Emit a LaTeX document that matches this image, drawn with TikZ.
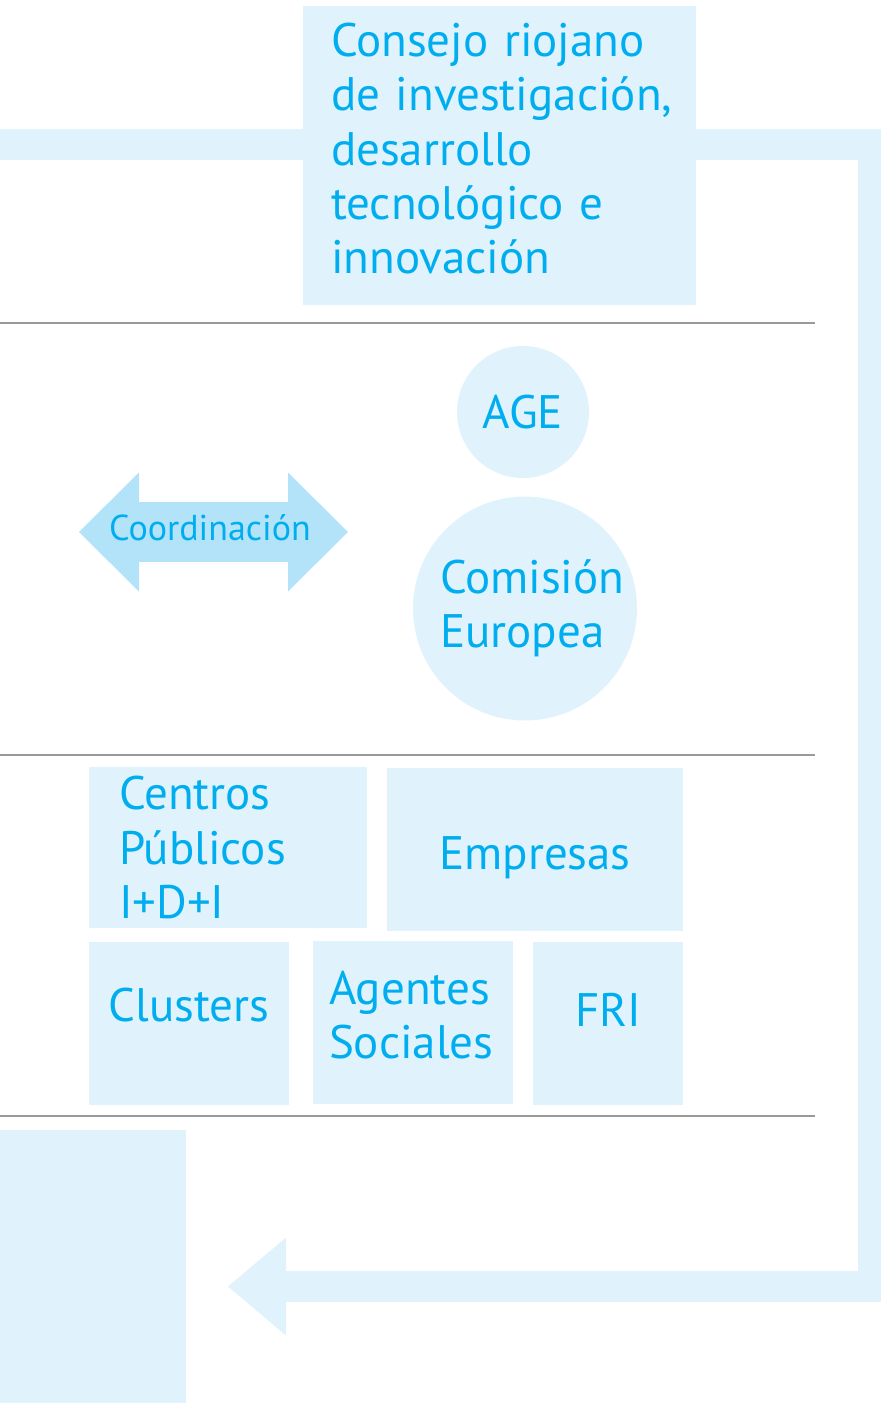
\documentclass[tikz,border=0pt]{standalone}
\usepackage{fontspec}
\setmainfont{PT Sans}
\usetikzlibrary{shapes,arrows.meta,positioning,backgrounds}
\definecolor{boxfill}{HTML}{E0F2FC}
\definecolor{txtblue}{HTML}{00AEEF}
\definecolor{arrowfill}{HTML}{B3E3F8}
\definecolor{sepgray}{HTML}{999999}
\newcommand{\mainfnt}{\fontsize{23.5pt}{27.1pt}\selectfont\hyphenpenalty=10000}
\newcommand{\smallfnt}{\fontsize{18pt}{20pt}\selectfont}
\tikzstyle{box} = [rectangle, fill=boxfill, text=txtblue, inner sep=0pt, font=\mainfnt]
\tikzstyle{circ} = [circle, fill=boxfill, text=txtblue, inner sep=0pt, font=\mainfnt, align=left]
\tikzstyle{band} = [draw=boxfill, line width=15.5pt]
\tikzstyle{sep} = [draw=sepgray, line width=1pt]
\tikzstyle{coordline} = [draw=arrowfill, line width=30pt, {Triangle[length=30pt,width=59.5pt,line width=0pt]}-{Triangle[length=30pt,width=59.5pt,line width=0pt]}]

\begin{document}
\begin{tikzpicture}[x=0.5pt, y=-0.5pt]
	\useasboundingbox (0,0) rectangle (881,1403);

	% top band
	\node [box, minimum width=196.5pt, minimum height=149.5pt, inner xsep=14pt, text width=168.5pt, align=left, text depth=115.5pt] (consejo) at (499.5,155.5) {\mbox{Consejo riojano}\\\mbox{de investigación,}\\desarrollo\\\mbox{tecnológico e}\\innovación};

	\draw [sep] (0,323) -- (815,323);
	\draw [sep] (0,755) -- (815,755);
	\draw [sep] (0,1116) -- (815,1116);

	% second band
	\node [circ, minimum size=66pt] (age) at (523,412) {AGE};
	\node [circ, minimum size=112pt, text width=85pt] (comision) at (525,608.5) {Comisión\\Europea};

	\coordinate (coordl) at (79,532);
	\coordinate (coordr) at (348,532);
	\path [coordline] (coordl) -- (coordr);
	\node [text=txtblue, font=\smallfnt, inner sep=0pt] (coord) at (210,528) {Coordinación};

	% third band
	\node [box, minimum width=139pt, minimum height=80.5pt, inner xsep=15pt, text width=109pt, align=left] (centros) at (228,847.5) {Centros\\Públicos\\I+D+I};
	\node [box, minimum width=148pt, minimum height=81.5pt, text height=26pt, text depth=6.5pt] (empresas) at (535,849.5) {Empresas};
	\node [box, minimum width=100pt, minimum height=81.5pt, text depth=19pt] (clusters) at (189,1023.5) {Clusters};
	\node [box, minimum width=100pt, minimum height=81.5pt, inner xsep=8pt, text width=84pt, align=left, text depth=35pt] (agentes) at (413,1022.5) {Agentes\\Sociales};
	\node [box, minimum width=75pt, minimum height=81.5pt, text depth=14pt] (fri) at (608,1023.5) {FRI};

	% bottom band
	\node [box, minimum width=93pt, minimum height=136.5pt] (foot) at (93,1266.5) {};

	\coordinate (bandin) at (0,144.5);
	\coordinate (bandright) at (873.5,144.5);
	\coordinate (bandtip) at (228,1286.5);
	\begin{scope}[on background layer]
		\path [band] (bandin) -- (consejo.west |- bandin);
		\path [band, -{Triangle[length=29pt,width=49pt,line width=0pt]}] (consejo.east |- bandright) -- (bandright) |- (bandtip);
	\end{scope}
\end{tikzpicture}
\end{document}
